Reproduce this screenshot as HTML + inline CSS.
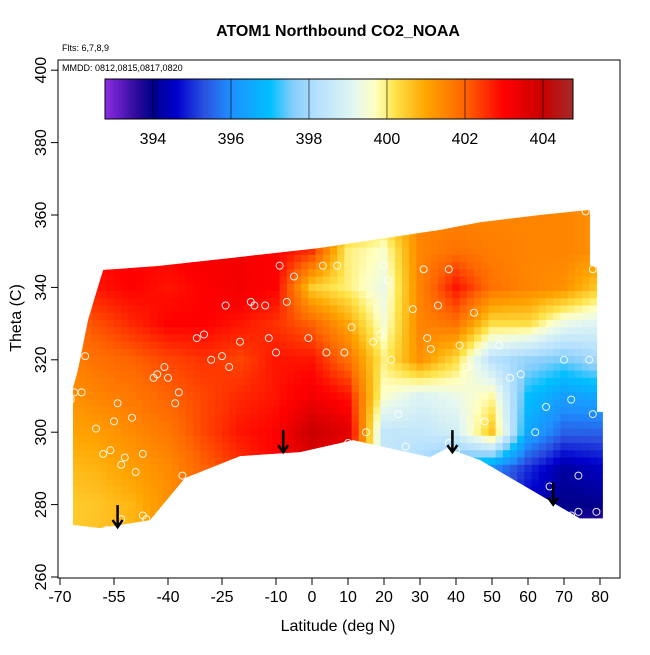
<!DOCTYPE html>
<html><head><meta charset="utf-8">
<style>
html,body{margin:0;padding:0;background:#fff;}
svg text{font-family:"Liberation Sans",sans-serif;}
</style></head>
<body>
<svg id="chart" width="650" height="650" viewBox="0 0 650 650" xmlns="http://www.w3.org/2000/svg">
<defs>
<clipPath id="dataclip"><polygon id="clipPoly" points=""/></clipPath>
<linearGradient id="cbar" x1="0" x2="1" y1="0" y2="0"></linearGradient>
</defs>
<text x="338" y="36" text-anchor="middle" font-size="16" font-weight="bold">ATOM1 Northbound CO2_NOAA</text>
<text x="62" y="51" font-size="9">Flts: 6,7,8,9</text>
<g id="heat" clip-path="url(#dataclip)"><g id="cells"></g></g>
<g id="pts"></g>
<g id="arrows"></g>
<rect x="58" y="60" width="562" height="518" fill="none" stroke="#000" stroke-width="1"/>
<text x="62" y="71" font-size="9">MMDD: 0812,0815,0817,0820</text>
<rect x="105" y="79" width="468" height="40" fill="url(#cbar)" stroke="#000" stroke-width="1"/>
<g id="cbticks"></g>
<g id="xaxis"></g>
<g id="yaxis"></g>
<text x="338" y="631" text-anchor="middle" font-size="16">Latitude (deg N)</text>
<text transform="translate(21,318) rotate(-90)" text-anchor="middle" font-size="16">Theta (C)</text>
</svg>
<script>
const lats=[-70,-60,-50,-40,-30,-20,-10,0,10,20,30,40,50,60,70,80];
const thetas=[360,350,340,330,320,310,300,290,280,270];
const co2Grid=[
[402,403,403,403,403,403,403,402.5,401,400.5,401.5,401.5,401.5,401.5,401.5,401.3],
[402,403,403,403,403.2,403.2,403,402.5,400,399.6,401.5,401.8,401.6,401.5,401.5,401.3],
[402,402.8,403,402.8,403,403.2,403,400.5,400,399.3,401.5,402.8,401.8,401.5,401.3,400.5],
[401.8,402.2,402.6,403,403,402.8,402.5,402,401,399.5,401.5,401.8,400.3,400.3,399.3,399],
[401.5,401.8,402,402.3,402.5,402.3,402.8,402.8,401.8,400,401.3,400.3,398.3,397.8,397.5,398],
[401.2,401.5,401.7,402,402.3,402.6,402.8,403.2,402.8,399.6,399,399.3,399.8,397,396.3,396.5],
[401,401.1,401.4,401.7,402.3,402.8,403,404,403.5,398.5,398.5,398.8,400.6,396.5,395.5,395.5],
[400.7,400.8,401.1,401.4,402,402.5,403,403.5,403,398.5,398,397,396,395,394.2,394.5],
[400.5,400.6,400.8,401.3,402,402.5,403,403.5,403,398.5,397.5,396.5,395.5,394.5,394,394],
[400.5,400.6,400.8,401.3,402,402.5,403,403.5,403,398.5,397.5,396.5,395.5,394.5,393.8,393.3]];
const boundLat=[-66.4,-65,-62.2,-59.7,-58,-42.8,-22.8,2.2,20.3,35.6,46.7,63.3,77.2,77.2,79.2,79.2,80.8,80.8,74.4,46.7,37.5,32.8,11.4,-3.3,-20,-35.3,-45,-58.9,-66.4];
const boundTheta=[312.2,317.2,331,339.3,344.8,345.9,348.1,350.9,353.6,355.9,358,360,361.4,346.2,345.4,305.6,305.6,276.2,276.2,292.3,295.6,293.1,297.8,294.5,293.4,287.3,275.7,273.5,274.4];
const ptLat=[-68,-68,-66,-67,-64,-63,-60,-56,-55,-54,-53,-52,-50,-49,-47,-46,-44,-43,-41,-40,-38,-37,-36,-32,-30,-28,-25,-24,-23,-20,-17,-16,-13,-12,-10,-9,-7,-5,-1,3,4,7,9,10,11,15,17,19,20,21,22,24,26,28,31,32,33,35,38,38,40,41,43,45,48,52,55,58,62,65,66,70,72,74,77,78,76,78,74,72,79,-58,-64,-57,-53,-47];
const ptTheta=[290,285,311,309,311,321,301,295,303,308,291,293,304,289,294,276,315,316,318,315,308,311,288,326,327,320,321,335,318,325,336,335,335,326,322,346,336,343,326,346,322,346,322,297,329,300,325,327,346,342,320,305,296,334,345,326,323,335,345,297,295,324,318,333,303,324,315,316,300,307,285,320,309,288,320,305,361,345,278,277,278,294,273,273,276,277];
const arrowLat=[-54,-8,39,67];
const arrowTheta=[273.8,294.5,294.5,280];
const xTicks=[-70,-55,-40,-25,-10,0,10,20,30,40,50,60,70,80];
const yTicks=[260,280,300,320,340,360,380,400];
const cbTicks=[394,396,398,400,402,404];
const cbStops=[[392.8,"#8a2be2"],[393.6,"#2a0a9a"],[394,"#00008b"],[394.6,"#0000cd"],[395.3,"#2a50e0"],[396,"#1e90ff"],[397,"#00bfff"],[397.6,"#87cefa"],[398.2,"#b4e0ff"],[399.2,"#e6f8f0"],[399.7,"#ffffc0"],[400.2,"#ffe44a"],[401,"#ffa500"],[402,"#ff6400"],[403,"#ff0000"],[404,"#c80000"],[404.8,"#a52a2a"]];
const NS="http://www.w3.org/2000/svg";
const xS=v=>312+v*3.6, yS=t=>577-(t-260)*3.62, cS=v=>105+(v-392.77)*39;
function hex(c){return [parseInt(c.substr(1,2),16),parseInt(c.substr(3,2),16),parseInt(c.substr(5,2),16)];}
function color(v){
  if(v<=cbStops[0][0])return cbStops[0][1];
  for(let i=1;i<cbStops.length;i++){if(v<=cbStops[i][0]){const a=hex(cbStops[i-1][1]),b=hex(cbStops[i][1]);const f=(v-cbStops[i-1][0])/(cbStops[i][0]-cbStops[i-1][0]);return "rgb("+a.map((x,k)=>Math.round(x+(b[k]-x)*f)).join(",")+")";}}
  return cbStops[cbStops.length-1][1];
}
function mk(tag,attrs,parent){const e=document.createElementNS(NS,tag);for(const k in attrs)e.setAttribute(k,attrs[k]);parent.appendChild(e);return e;}
function sample(lat,th){
  let fc=(lat-lats[0])/10; fc=Math.max(0,Math.min(lats.length-1.0001,fc));
  let fr=(thetas[0]-th)/10; fr=Math.max(0,Math.min(thetas.length-1.0001,fr));
  const c=Math.floor(fc),r=Math.floor(fr),u=fc-c,w=fr-r;
  const g=co2Grid;
  return g[r][c]*(1-u)*(1-w)+g[r][c+1]*u*(1-w)+g[r+1][c]*(1-u)*w+g[r+1][c+1]*u*w;
}
const grad=document.getElementById('cbar');
cbStops.forEach(s=>{mk('stop',{offset:((cS(s[0])-105)/468),'stop-color':s[1]},grad);});
document.getElementById('clipPoly').setAttribute('points',boundLat.map((l,i)=>xS(l)+","+yS(boundTheta[i])).join(" "));
const cells=document.getElementById('cells');
const dLat=2,dTh=2;
for(let th=362;th>=270;th-=dTh)for(let la=-68;la<=82;la+=dLat){
  const x0=xS(la-dLat/2),y0=yS(th+dTh/2);
  const e=mk('rect',{x:x0,y:y0,width:dLat*3.6+0.6,height:dTh*3.62+0.6,fill:color(sample(la,th))},cells);
  
  
}
const pts=document.getElementById('pts');
ptLat.forEach((l,i)=>{const e=mk('circle',{cx:xS(l),cy:yS(ptTheta[i]),r:3.5,fill:'none',stroke:'#fff','stroke-opacity':0.9,'stroke-width':1},pts);
  
  });
const arr=document.getElementById('arrows');
arrowLat.forEach((l,i)=>{const x=xS(l),y=yS(arrowTheta[i]);
  const g=mk('g',{},arr);
  
  
  mk('line',{x1:x,y1:y-22,x2:x,y2:y,stroke:'#000','stroke-width':2.5},g);
  mk('polyline',{points:(x-5)+","+(y-7)+" "+x+","+y+" "+(x+5)+","+(y-7),fill:'none',stroke:'#000','stroke-width':2.5},g);});
const cb=document.getElementById('cbticks');
cbTicks.forEach(v=>{const x=cS(v);
  const l=mk('line',{x1:x,y1:79,x2:x,y2:119,stroke:'#000','stroke-width':1,'stroke-opacity':0.6},cb);
  
  
  const t=mk('text',{x:x,y:144,'text-anchor':'middle','font-size':16},cb);t.textContent=v;
  
  });
const xa=document.getElementById('xaxis');
xTicks.forEach(v=>{const x=xS(v);
  mk('line',{x1:x,y1:578,x2:x,y2:585,stroke:'#000'},xa);
  const t=mk('text',{x:x,y:602,'text-anchor':'middle','font-size':16},xa);t.textContent=v;
  
  });
const ya=document.getElementById('yaxis');
yTicks.forEach(v=>{const y=yS(v);
  mk('line',{x1:51,y1:y,x2:58,y2:y,stroke:'#000'},ya);
  const t=mk('text',{transform:"translate(46,"+y+") rotate(-90)",'text-anchor':'middle','font-size':16},ya);t.textContent=v;
  
  });
</script>
</body></html>
